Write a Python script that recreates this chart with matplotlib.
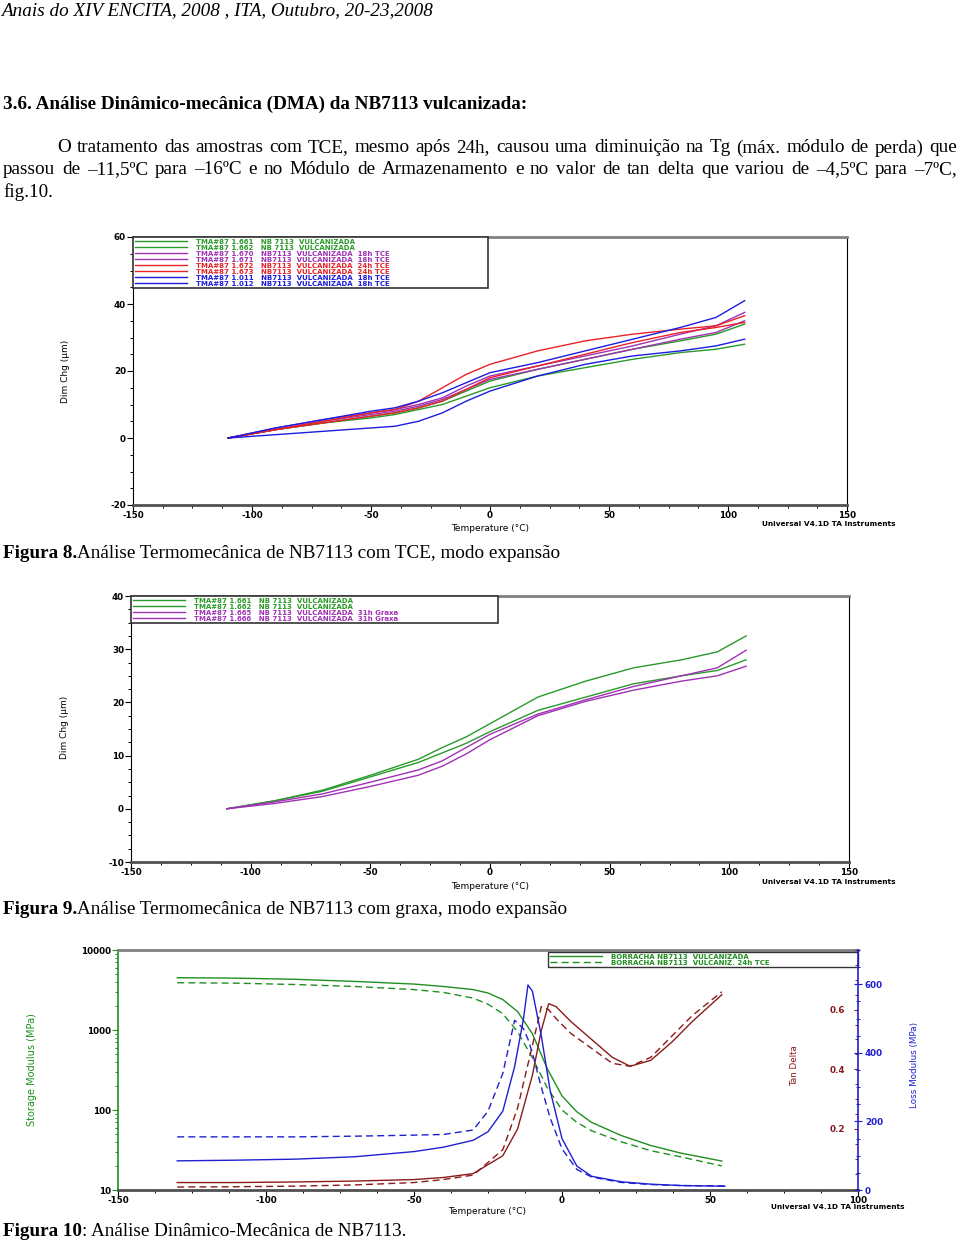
import matplotlib
matplotlib.use("Agg")
import matplotlib.pyplot as plt
from matplotlib.ticker import AutoMinorLocator, MultipleLocator, FixedLocator, FuncFormatter

W, H = 960, 1243

# ---------------- Figura 8: TMA, amostras com TCE ----------------
temp8 = [-110, -90, -70, -50, -40, -30, -20, -10, 0, 20, 40, 60, 80, 95, 107]
labels8 = [
    "TMA#87 1.661   NB 7113  VULCANIZADA",
    "TMA#87 1.662   NB 7113  VULCANIZADA",
    "TMA#87 1.670   NB7113  VULCANIZADA  18h TCE",
    "TMA#87 1.671   NB7113  VULCANIZADA  18h TCE",
    "TMA#87 1.672   NB7113  VULCANIZADA  24h TCE",
    "TMA#87 1.673   NB7113  VULCANIZADA  24h TCE",
    "TMA#87 1.011   NB7113  VULCANIZADA  18h TCE",
    "TMA#87 1.012   NB7113  VULCANIZADA  18h TCE",
]
dim8_1661 = [0, 2.5, 4.5, 6.5, 7.5, 9, 11, 14, 17, 20.5, 23.5, 26.5, 29, 31, 34]
dim8_1662 = [0, 2.5, 4.5, 6, 7, 8.5, 10, 12.5, 15, 18.5, 21, 23.5, 25.5, 26.5, 28]
dim8_1670 = [0, 3, 5.5, 7.5, 8.5, 10, 12, 15.5, 18.5, 21.5, 24.5, 27.5, 31, 33.5, 37.5]
dim8_1671 = [0, 2.5, 5, 7, 8, 9.5, 11.5, 14.5, 17.5, 20.5, 23.5, 26.5, 29.5, 31.5, 35]
dim8_1672 = [0, 2.5, 5, 7.5, 8.5, 11, 15, 19, 22, 26, 29, 31, 32.5, 33.5, 36.5]
dim8_1673 = [0, 2.5, 4.5, 6.5, 7.5, 9, 11, 14.5, 18, 21.5, 25, 28.5, 31.5, 33, 34.5]
dim8_1011 = [0, 3, 5.5, 8, 9, 11, 13.5, 16.5, 19.5, 22.5, 26, 29.5, 33, 36, 41]
dim8_1012 = [0, 1, 2, 3, 3.5, 5, 7.5, 11, 14, 18.5, 22, 24.5, 26, 27.5, 29.5]
series8 = [dim8_1661, dim8_1662, dim8_1670, dim8_1671,
           dim8_1672, dim8_1673, dim8_1011, dim8_1012]
colors8 = ["#2a9a2a", "#2a9a2a", "#a032b4", "#a032b4",
           "#e82228", "#e82228", "#1c1ce0", "#1c1ce0"]

# ---------------- Figura 9: TMA, amostras com graxa ----------------
temp9 = [-110, -90, -70, -50, -30, -20, -10, 0, 20, 40, 60, 80, 95, 107]
labels9 = [
    "TMA#87 1.661   NB 7113  VULCANIZADA",
    "TMA#87 1.662   NB 7113  VULCANIZADA",
    "TMA#87 1.665   NB 7113  VULCANIZADA  31h Graxa",
    "TMA#87 1.666   NB 7113  VULCANIZADA  31h Graxa",
]
dim9_1661 = [0, 1.5, 3.5, 6.3, 9.3, 11.5, 13.5, 16, 21, 24, 26.5, 28, 29.5, 32.5]
dim9_1662 = [0, 1.5, 3.3, 6, 8.7, 10.5, 12.3, 14.5, 18.5, 21, 23.5, 25, 26, 28]
dim9_1665 = [0, 1.3, 2.8, 5, 7.3, 9, 11.5, 14, 17.8, 20.5, 23, 25, 26.5, 29.8]
dim9_1666 = [0, 1, 2.3, 4.2, 6.3, 8, 10.3, 13, 17.5, 20.2, 22.3, 24, 25, 26.8]
series9 = [dim9_1661, dim9_1662, dim9_1665, dim9_1666]
colors9 = ["#2a9a2a", "#2a9a2a", "#a032b4", "#a032b4"]

# ---------------- Figura 10: DMA ----------------
labels10 = ["BORRACHA NB7113  VULCANIZADA", "BORRACHA NB7113  VULCANIZ. 24h TCE"]
temp10_e = [-130, -110, -90, -70, -50, -40, -30, -25, -20, -15, -10, -5, 0, 5, 10, 20, 30, 40, 54]
storage_ref = [4500, 4450, 4300, 4050, 3750, 3500, 3200, 2900, 2400, 1700, 900, 330, 150,
               95, 70, 48, 36, 29, 23]
storage_tce = [3900, 3850, 3700, 3500, 3200, 2950, 2500, 2100, 1600, 950, 450, 190, 100,
               70, 55, 40, 31, 26, 20]
temp10_l = [-130, -110, -90, -70, -50, -40, -30, -25, -20, -16, -13, -11.5, -10, -7, -4,
            0, 5, 10, 20, 30, 40, 55]
loss_ref = [85, 87, 90, 97, 112, 125, 145, 170, 230, 360, 500, 598, 580, 450, 290,
            150, 70, 40, 24, 17, 13, 11]
loss_tce = [155, 155, 155, 157, 160, 162, 175, 230, 340, 495, 470, 440, 400, 300, 210,
            120, 60, 38, 22, 16, 13, 12]
temp10_t = [-130, -110, -90, -70, -50, -40, -30, -20, -15, -10, -7, -4.5, -2, 3, 10, 17,
            23, 30, 37, 44, 54]
tan_ref = [0.02, 0.02, 0.022, 0.025, 0.03, 0.037, 0.05, 0.11, 0.2, 0.38, 0.53, 0.62,
           0.61, 0.56, 0.5, 0.44, 0.41, 0.43, 0.49, 0.56, 0.65]
tan_tce = [0.005, 0.006, 0.008, 0.012, 0.02, 0.03, 0.045, 0.13, 0.27, 0.48, 0.61, 0.6,
           0.57, 0.52, 0.47, 0.42, 0.41, 0.44, 0.51, 0.58, 0.66]

plt.rcParams["font.family"] = ["DejaVu Sans"]
plt.rcParams["font.weight"] = "bold"
plt.rcParams["axes.unicode_minus"] = False

SERIF = ["Liberation Serif", "DejaVu Serif"]
BODY = 13.8
TICK = 6.3
LAB = 6.5
UNIV = 5.3


def box(x0, y0, x1, y1):
    # pixel box (top-left origin) -> figure fraction rect
    return [x0 / W, 1 - y1 / H, (x1 - x0) / W, (y1 - y0) / H]


def put_runs(fig, runs, x, y, size=BODY, style="normal"):
    r = fig.canvas.get_renderer()
    for s, weight in runs:
        t = fig.text(x / W, 1 - y / H, s, fontsize=size, fontweight=weight,
                     family=SERIF, style=style, va="center", ha="left")
        x += t.get_window_extent(r).width


def justified(fig, line, x0, x1, y, size=BODY):
    r = fig.canvas.get_renderer()
    words = line.split()
    texts, widths = [], []
    for w in words:
        t = fig.text(0, 0, w, fontsize=size, fontweight="normal", family=SERIF,
                     va="center", ha="left")
        texts.append(t)
        widths.append(t.get_window_extent(r).width)
    gap = (x1 - x0 - sum(widths)) / (len(words) - 1)
    x = x0
    for t, wd in zip(texts, widths):
        t.set_position((x / W, 1 - y / H))
        x += wd + gap


def tma_axes(ax, ylim, ystep, legend_w, legend_h):
    ax.set_xlim(-150, 150)
    ax.set_ylim(*ylim)
    ax.xaxis.set_major_locator(MultipleLocator(50))
    ax.xaxis.set_minor_locator(AutoMinorLocator(4))
    ax.yaxis.set_major_locator(MultipleLocator(ystep))
    ax.yaxis.set_minor_locator(AutoMinorLocator(4))
    ax.tick_params(which="major", direction="out", length=4, width=0.8,
                   labelsize=TICK, pad=1.0)
    ax.tick_params(axis="x", which="major", pad=0.3)
    ax.tick_params(which="minor", direction="out", length=2.5, width=0.7)
    ax.spines["top"].set_color("#808080")
    ax.spines["top"].set_linewidth(2)
    ax.spines["bottom"].set_color("#505050")
    ax.spines["bottom"].set_linewidth(2)
    ax.spines["left"].set_linewidth(0.8)
    ax.spines["right"].set_linewidth(0.8)
    leg = ax.legend(loc="upper left", bbox_to_anchor=(0, 1 - legend_h, legend_w, legend_h),
                    mode="expand", borderaxespad=0, fontsize=5, labelspacing=0.0,
                    borderpad=0.25, handlelength=7.5, handletextpad=1.3,
                    labelcolor="linecolor", fancybox=False, framealpha=1,
                    edgecolor="#333333")
    leg.get_frame().set_linewidth(1.2)
    ax.set_xlabel("Temperature (°C)", fontsize=LAB)
    ax.set_ylabel("Dim Chg (µm)", fontsize=LAB)


def main():
    fig = plt.figure(figsize=(W / 100, H / 100), dpi=100)

    # ---------- texto da página ----------
    put_runs(fig, [("Anais do XIV ENCITA, 2008 , ITA, Outubro, 20-23,2008", "normal")],
             1, 11, size=13.8, style="italic")
    put_runs(fig, [("3.6. Análise Dinâmico-mecânica (DMA) da NB7113 vulcanizada:", "bold")],
             3, 104)
    justified(fig, "O tratamento das amostras com TCE, mesmo após 24h, causou uma diminuição "
              "na Tg (máx. módulo de perda) que", 57, 957, 148)
    justified(fig, "passou de –11,5ºC para –16ºC e no Módulo de Armazenamento e no valor de "
              "tan delta que variou de –4,5ºC para –7ºC,", 3, 957, 170)
    put_runs(fig, [("fig.10.", "normal")], 3, 192)

    # ---------- Figura 8 ----------
    ax8 = fig.add_axes(box(133, 237, 847, 505))
    for vals, lab, c in zip(series8, labels8, colors8):
        ax8.plot(temp8, vals, color=c, lw=1.0, label=lab)
    tma_axes(ax8, (-20, 60), 20, 0.497, 0.246)
    ax8.xaxis.set_label_coords(0.5, -0.072)
    ax8.yaxis.set_label_coords(-0.088, 0.5)
    ax8.text(0.881, -0.072, "Universal V4.1D TA Instruments", transform=ax8.transAxes,
             fontsize=UNIV, ha="left", va="center")
    put_runs(fig, [("Figura 8.", "bold"),
                   ("Análise Termomecânica de NB7113 com TCE, modo expansão", "normal")],
             3, 553)

    # ---------- Figura 9 ----------
    ax9 = fig.add_axes(box(131, 596, 849, 862))
    for vals, lab, c in zip(series9, labels9, colors9):
        ax9.plot(temp9, vals, color=c, lw=1.0, label=lab)
    tma_axes(ax9, (-10, 40), 10, 0.511, 0.139)
    ax9.xaxis.set_label_coords(0.5, -0.076)
    ax9.yaxis.set_label_coords(-0.086, 0.507)
    ax9.text(0.879, -0.076, "Universal V4.1D TA Instruments", transform=ax9.transAxes,
             fontsize=UNIV, ha="left", va="center")
    put_runs(fig, [("Figura 9.", "bold"),
                   ("Análise Termomecânica de NB7113 com graxa, modo expansão", "normal")],
             3, 910)

    # ---------- Figura 10 ----------
    green, brown, blue = "#1f8f1f", "#8b1a1a", "#1f1fd0"
    ax10 = fig.add_axes(box(118, 950, 858, 1190))
    ax10.set_yscale("log")
    ax10.plot(temp10_e, storage_ref, color=green, lw=1.0, label=labels10[0])
    ax10.plot(temp10_e, storage_tce, color=green, lw=1.0, ls=(0, (5, 3)), label=labels10[1])
    ax10.set_xlim(-150, 100)
    ax10.set_ylim(10, 10000)
    ax10.xaxis.set_major_locator(MultipleLocator(50))
    ax10.xaxis.set_minor_locator(AutoMinorLocator(4))
    ax10.yaxis.set_major_formatter(FuncFormatter(lambda v, _: f"{v:g}"))
    ax10.tick_params(which="major", direction="out", length=4, width=0.8,
                     labelsize=TICK, pad=1.0)
    ax10.tick_params(axis="x", which="major", pad=0.3)
    ax10.tick_params(which="minor", direction="out", length=2.5, width=0.7)
    ax10.tick_params(axis="y", which="both", colors=green, labelcolor="black")
    ax10.spines["left"].set_color(green)
    ax10.spines["left"].set_linewidth(1.2)
    ax10.spines["right"].set_visible(False)
    ax10.spines["top"].set_color("#808080")
    ax10.spines["top"].set_linewidth(2)
    ax10.spines["bottom"].set_color("#505050")
    ax10.spines["bottom"].set_linewidth(2)
    ax10.set_xlabel("Temperature (°C)", fontsize=LAB)
    ax10.xaxis.set_label_coords(0.499, -0.07)
    ax10.set_ylabel("Storage Modulus (MPa)", fontsize=7, color=green)
    ax10.yaxis.set_label_coords(-0.11, 0.5)
    ax10.text(0.882, -0.07, "Universal V4.1D TA Instruments", transform=ax10.transAxes,
              fontsize=UNIV, ha="left", va="center")
    leg = ax10.legend(loc="upper right", bbox_to_anchor=(0.581, 0.925, 0.419, 0.067),
                      mode="expand", borderaxespad=0, fontsize=5, labelspacing=0.0,
                      borderpad=0.25, handlelength=7.5, handletextpad=1.3,
                      labelcolor="linecolor", fancybox=False, framealpha=1,
                      edgecolor="#333333")
    leg.get_frame().set_linewidth(1.0)

    ax_td = ax10.twinx()
    ax_td.plot(temp10_t, tan_ref, color=brown, lw=1.0)
    ax_td.plot(temp10_t, tan_tce, color=brown, lw=1.0, ls=(0, (5, 3)))
    ax_td.set_ylim(-0.005, 0.8)
    for s in ax_td.spines.values():
        s.set_visible(False)
    ax_td.spines["left"].set_position(("axes", 1.0))
    ax_td.yaxis.set_ticks_position("left")
    ax_td.yaxis.set_label_position("left")
    ax_td.yaxis.set_major_locator(FixedLocator([0.2, 0.4, 0.6]))
    ax_td.yaxis.set_minor_locator(MultipleLocator(0.05))
    ax_td.tick_params(axis="y", which="major", direction="out", length=3, width=0.8,
                      colors=brown, labelsize=TICK, pad=6)
    ax_td.tick_params(axis="y", which="minor", direction="out", length=2, width=0.7,
                      colors=brown)
    ax_td.set_ylabel("Tan Delta", fontsize=6.3, color=brown)
    ax_td.yaxis.set_label_coords(0.92, 0.52)

    ax_loss = ax10.twinx()
    ax_loss.plot(temp10_l, loss_ref, color=blue, lw=1.0)
    ax_loss.plot(temp10_l, loss_tce, color=blue, lw=1.0, ls=(0, (5, 3)))
    ax_loss.set_ylim(0, 700)
    for s in ax_loss.spines.values():
        s.set_visible(False)
    ax_loss.spines["right"].set_visible(True)
    ax_loss.spines["right"].set_color(blue)
    ax_loss.spines["right"].set_linewidth(1.2)
    ax_loss.yaxis.set_major_locator(MultipleLocator(200))
    ax_loss.yaxis.set_minor_locator(MultipleLocator(50))
    ax_loss.tick_params(axis="y", which="major", direction="inout", length=6, width=0.8,
                        colors=blue, labelsize=TICK, pad=2)
    ax_loss.tick_params(axis="y", which="minor", direction="inout", length=3, width=0.7,
                        colors=blue)
    ax_loss.set_ylabel("Loss Modulus (MPa)", fontsize=6.3, color=blue)
    ax_loss.yaxis.set_label_coords(1.07, 0.52)

    put_runs(fig, [("Figura 10", "bold"),
                   (": Análise Dinâmico-Mecânica de NB7113.", "normal")],
             3, 1232)

    fig.savefig("out.png", dpi=100)
    plt.close(fig)


if __name__ == "__main__":
    main()
